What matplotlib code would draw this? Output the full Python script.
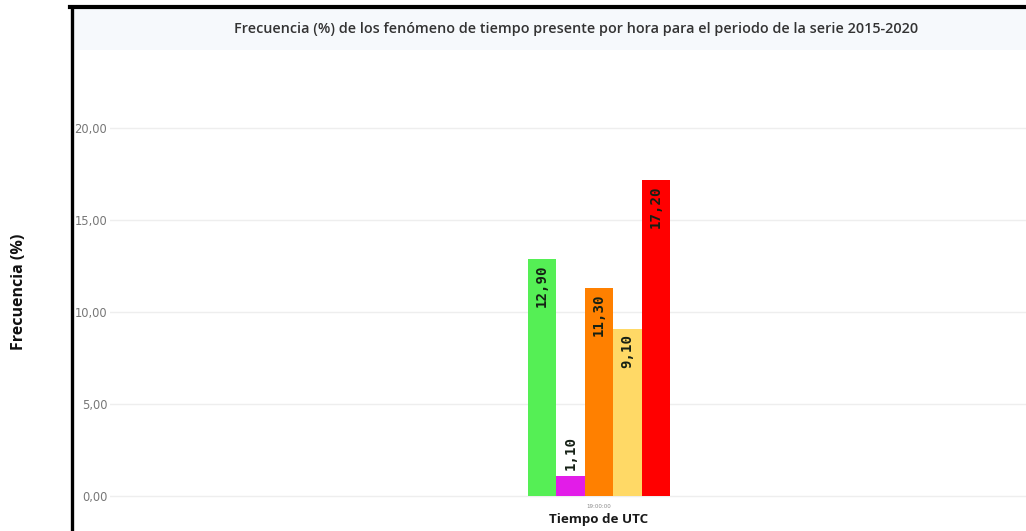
import matplotlib
matplotlib.use("Agg")
import matplotlib.pyplot as plt
from matplotlib.patches import Rectangle
from matplotlib.lines import Line2D

# Data
hour_label = ["19:00:00"]
series_names = ["Serie 1", "Serie 2", "Serie 3", "Serie 4", "Serie 5"]
series_values = [12.90, 1.10, 11.30, 9.10, 17.20]
series_colors = ["#55ef55", "#e21ce8", "#ff8000", "#ffd966", "#ff0000"]
y_ticks = [0, 5, 10, 15, 20]

W, H = 1026, 531
fig = plt.figure(figsize=(W / 100, H / 100), dpi=100)
fig.patch.set_facecolor("white")

def fx(px):
    return px / W

def fy(py):
    return 1 - py / H

# Axes placement
ax_left, ax_right, ax_top, ax_bottom = 110, 1026, 52, 500
ax = fig.add_axes([fx(ax_left), fy(ax_bottom), fx(ax_right - ax_left), (ax_bottom - ax_top) / H])
ax.set_facecolor("white")

n = len(series_values)
offsets = [i - (n - 1) / 2 for i in range(n)]
bar_w = 1.0
for off, v, c in zip(offsets, series_values, series_colors):
    ax.bar(off, v, width=bar_w, color=c, linewidth=0, zorder=3)
    lbl = f"{v:.2f}".replace(".", ",")
    inside = v > 3
    ax.annotate(lbl, (off, v), xytext=(0, -4 if inside else 4), textcoords="offset points",
                rotation=90, ha="center", va="top" if inside else "bottom", fontsize=10.2,
                fontweight="bold", family="DejaVu Sans Mono", color="#152015", zorder=4)

px_per_unit = 28.5
center_px = 599
ax.set_xlim(-(center_px - ax_left) / px_per_unit, (ax_right - center_px) / px_per_unit)
y0_px, y20_px = 496, 128
ppu_y = (y0_px - y20_px) / 20
ax.set_ylim(-(ax_bottom - y0_px) / ppu_y, (y0_px - ax_top) / ppu_y)

ax.set_yticks(y_ticks)
ax.set_yticklabels([f"{t:.2f}".replace(".", ",") for t in y_ticks], color="#777777",
                   fontsize=8.3, family="DejaVu Sans")
ax.tick_params(axis="y", length=0, pad=2)
ax.yaxis.grid(True, color="#eeeeee", linewidth=1, zorder=0)
ax.set_xticks([0])
ax.set_xticklabels(hour_label, fontsize=4, color="#888888")
ax.tick_params(axis="x", length=0, pad=3)
for s in ax.spines.values():
    s.set_visible(False)

fig.text(fx(599), fy(520), "Tiempo de UTC", ha="center", va="center",
         fontsize=9.6, fontweight="bold", color="#1a1a1a", family="Open Sans")

# Title bar
fig.add_artist(Rectangle((fx(73), fy(50)), fx(W - 73), (50 - 9) / H,
                         facecolor="#f6f9fc", edgecolor="none", zorder=0))
fig.text(fx(576), fy(29), "Frecuencia (%) de los fenómeno de tiempo presente por hora para el periodo de la serie 2015-2020",
         ha="center", va="center", fontsize=10.4, color="#333333", family="Open Sans",
         fontweight="semibold")

# Outer frame
fig.add_artist(Line2D([fx(71.5), fx(71.5)], [fy(7), 0], color="black", linewidth=2.4))
fig.add_artist(Line2D([fx(70), 1], [fy(7), fy(7)], color="black", linewidth=3))

# Y label outside frame
fig.text(fx(19), fy(292), "Frecuencia (%)", rotation=90, ha="center", va="center",
         fontsize=11.5, fontweight="bold", color="#111111", family="Open Sans")

fig.savefig("out.png", dpi=100)
